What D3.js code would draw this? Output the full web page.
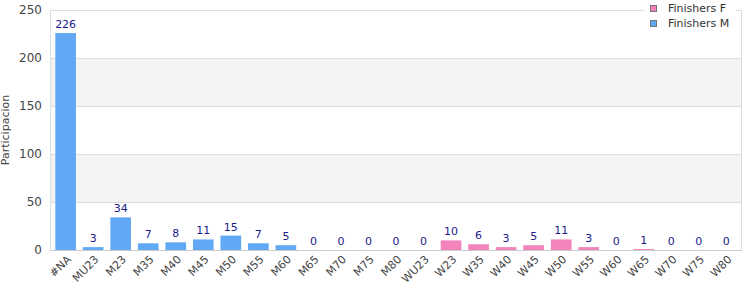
<!DOCTYPE html>
<html><head><meta charset="utf-8">
<script src="https://cdn.jsdelivr.net/npm/d3@7"></script>
<style>body{margin:0;background:#fff;}svg{display:block;font-family:"DejaVu Sans",sans-serif;}</style>
</head><body>
<svg id="c" width="750" height="300"></svg>
<script>
const categories = ["#NA","MU23","M23","M35","M40","M45","M50","M55","M60","M65","M70","M75","M80","WU23","W23","W35","W40","W45","W50","W55","W60","W65","W70","W75","W80"];
const finishersM = [226,3,34,7,8,11,15,7,5,0,0,0,0,0,0,0,0,0,0,0,0,0,0,0,0];
const finishersF = [0,0,0,0,0,0,0,0,0,0,0,0,0,0,10,6,3,5,11,3,0,1,0,0,0];
const yTicks = [0,50,100,150,200,250];
const seriesNames = ["Finishers F","Finishers M"];
const colors = {"Finishers F":"#f283bb","Finishers M":"#62a9f5"};

const svg = d3.select("#c");
const L=50, R=741, T=10, B=250;
const x = d3.scaleBand().domain(categories).range([L+2,R-1]).paddingInner(0.25).paddingOuter(0.12);
const y = d3.scaleLinear().domain([0,250]).range([B,T]);

for(let i=0;i<yTicks.length-1;i++){
  if(i%2===1){
    svg.append("rect").attr("x",L).attr("y",y(yTicks[i+1])).attr("width",R-L).attr("height",y(yTicks[i])-y(yTicks[i+1])).attr("fill","#f3f3f3");
  }
}
svg.append("g").selectAll("line").data(yTicks.slice(1)).join("line")
  .attr("x1",L).attr("x2",R).attr("y1",d=>y(d)+0.5).attr("y2",d=>y(d)+0.5).attr("stroke","#dcdcdc");
svg.append("line").attr("x1",R+0.5).attr("x2",R+0.5).attr("y1",T).attr("y2",B).attr("stroke","#dcdcdc");
svg.append("line").attr("x1",L+0.5).attr("x2",L+0.5).attr("y1",T).attr("y2",B).attr("stroke","#dcdcdc");

const rows = categories.map((c,i)=>({cat:c,"Finishers M":finishersM[i],"Finishers F":finishersF[i]}));
const stack = d3.stack().keys(["Finishers M","Finishers F"])(rows);
svg.append("g").selectAll("g").data(stack).join("g").attr("fill",d=>colors[d.key])
  .selectAll("rect").data(d=>d).join("rect")
  .attr("x",d=>x(d.data.cat)).attr("width",x.bandwidth())
  .attr("y",d=>y(d[1])).attr("height",d=>y(d[0])-y(d[1]));

svg.append("g").selectAll("text").data(rows).join("text")
  .attr("x",d=>x(d.cat)+x.bandwidth()/2)
  .attr("y",d=>y(d["Finishers M"]+d["Finishers F"])-5)
  .attr("text-anchor","middle").attr("font-size",11).attr("fill","#1a1a8a")
  .text(d=>d["Finishers M"]+d["Finishers F"]);

const ya = svg.append("g").attr("transform",`translate(${L},0)`).call(d3.axisLeft(y).tickValues(yTicks).tickSize(0).tickPadding(8));
ya.select(".domain").remove();
ya.selectAll("text").attr("font-size",12).attr("fill","#444").attr("font-family","DejaVu Sans");

svg.append("line").attr("x1",L).attr("x2",R+1).attr("y1",B+0.5).attr("y2",B+0.5).attr("stroke","#cccccc");
const xa = svg.append("g").attr("transform",`translate(0,${B})`).call(d3.axisBottom(x).tickSize(0));
xa.select(".domain").remove();
xa.selectAll("text").attr("font-size",11).attr("fill","#444").attr("font-family","DejaVu Sans")
  .attr("text-anchor","end").attr("dy","0").attr("dx","0")
  .attr("transform","translate(4,8) rotate(-45)");

svg.append("text").attr("transform","translate(9,130) rotate(-90)").attr("text-anchor","middle")
  .attr("font-size",11).attr("fill","#444").text("Participacion");

const lg = svg.append("g");
lg.append("rect").attr("x",644).attr("y",0).attr("width",92).attr("height",34).attr("fill","#fff");
seriesNames.forEach((s,i)=>{
  lg.append("rect").attr("x",650.5).attr("y",5.5+i*15).attr("width",6).attr("height",6).attr("fill",colors[s]).attr("stroke","#777");
  lg.append("text").attr("x",668).attr("y",12+i*15).attr("font-size",11).attr("fill","#333").text(s);
});
</script>
</body></html>
